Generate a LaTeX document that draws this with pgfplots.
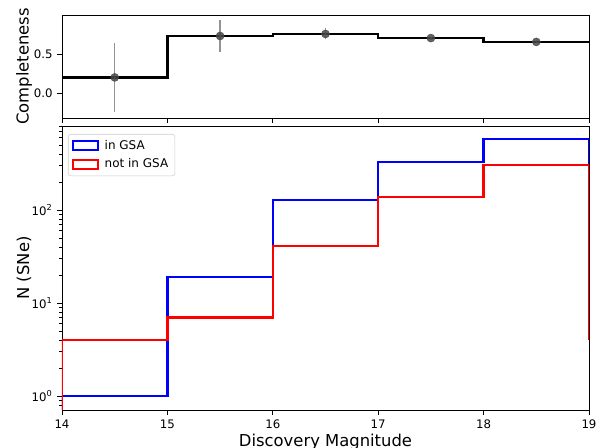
\documentclass[border=0pt]{standalone}
\usepackage{pgfplots}
\pgfplotsset{compat=1.18}
\usepackage{fontspec}
\setmainfont{DejaVu Sans}
\begin{document}
\begin{tikzpicture}
\path[use as bounding box] (0,0) rectangle (447.75pt,336pt);
\pgfplotsset{
  every axis/.append style={
    scale only axis, width=395.25pt, xmin=14, xmax=19,
    tick align=outside, xtick pos=left, ytick pos=left,
    major tick length=3.6pt, minor tick length=2.1pt,
    every tick/.style={black, line width=0.6pt},
    axis line style={line width=0.7pt},
    tick label style={font=\fontsize{8.8}{10}\selectfont},
    label style={font=\fontsize{12.3}{15}\selectfont},
    /pgf/number format/assume math mode=true,
  }
}
\begin{axis}[
  at={(46.5pt,247.5pt)}, anchor=south west, height=77.25pt,
  ymin=-0.32, ymax=1.0, ytick={0,0.5}, yticklabels={0.0,0.5},
  xtick={14,15,16,17,18,19}, xticklabels={},
  ylabel={Completeness},
  ylabel style={at={(axis description cs:-0.0721,0.5)}, anchor=center, inner sep=0pt},
]
\addplot[const plot, black, line width=1.7pt] coordinates {(14,0.2)(15,0.731)(16,0.757)(17,0.704)(18,0.655)(19,0.655)};
\addplot[only marks, mark=*, mark size=3pt, color=black!72, opacity=0.85,
  error bars/.cd, y dir=both, y explicit, error mark=none,
  error bar style={black!50, line width=1.1pt}]
  coordinates {
  (14.5,0.2) +- (0,0.445)
  (15.5,0.731) +- (0,0.2)
  (16.5,0.757) +- (0,0.07)
  (17.5,0.704) +- (0,0.02)
  (18.5,0.655) +- (0,0.02)
  };
\end{axis}
\begin{axis}[
  at={(46.5pt,28.5pt)}, anchor=south west, height=213pt,
  ymode=log, ymin=0.71, ymax=800,
  ytick={1,10,100}, yticklabels={10\textsuperscript{0},10\textsuperscript{1},10\textsuperscript{2}},
  minor ytick={0.8,0.9,2,3,4,5,6,7,8,9,20,30,40,50,60,70,80,90,200,300,400,500,600,700,800},
  xtick={14,15,16,17,18,19},
  xlabel={Discovery Magnitude},
  xlabel style={at={(axis description cs:0.5,0)}, anchor=north, yshift=-17.5pt, inner sep=0pt},
  ylabel={N (SNe)},
  ylabel style={at={(axis description cs:-0.0721,0.5)}, anchor=center, inner sep=0pt},
  legend cell align=left,
  legend style={at={(axis description cs:0,1)}, anchor=north west, xshift=4.5pt, yshift=-6pt,
    draw=black!20, rounded corners=2pt, font=\fontsize{9}{10}\selectfont,
    inner xsep=3pt, inner ysep=2.5pt, row sep=1.5pt},
  legend image code/.code={\draw[#1, sharp corners, line width=1.6pt] (0pt,-3.4pt) rectangle (18.5pt,3.4pt); \path[draw=none, fill=none] (0pt,0pt) -- (21.5pt,0pt);},
]
\addplot[const plot, blue, line width=1.7pt] coordinates {(14,0.5)(14,1)(15,19)(16,128)(17,328)(18,580)(19,580)(19,305)};
\addlegendentry{in GSA}
\addplot[const plot, red, line width=1.7pt] coordinates {(14,0.5)(14,4)(15,7)(16,41)(17,138)(18,305)(19,305)(19,4)};
\addlegendentry{not in GSA}
\end{axis}
\end{tikzpicture}
\end{document}
